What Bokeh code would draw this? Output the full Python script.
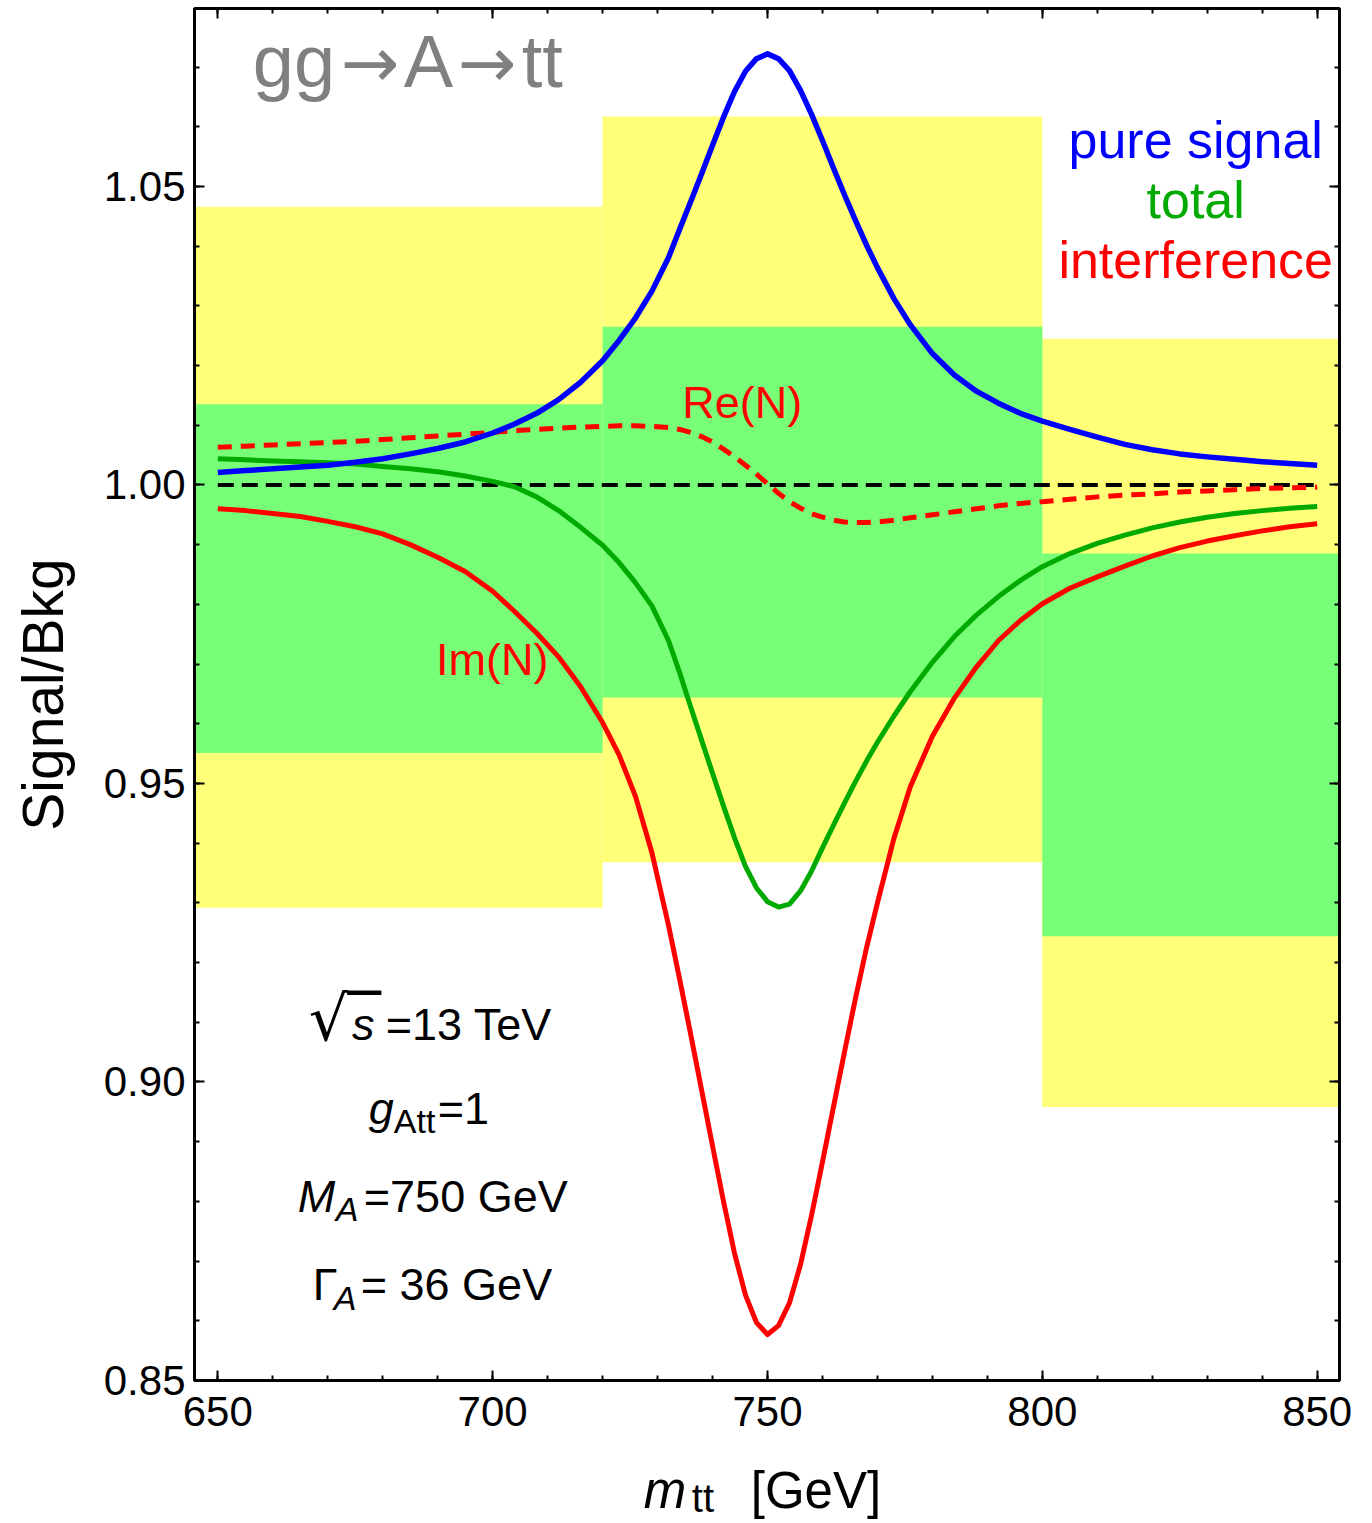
from bokeh.plotting import figure
from bokeh.layouts import column
from bokeh.models import (Range1d, LinearAxis, SingleIntervalTicker,
                          CustomJSTickFormatter, PrintfTickFormatter)
from bokeh.core.properties import value
from bokeh.embed import file_html
from bokeh.resources import INLINE

# ---------------- data ----------------
m_tt = [650, 655, 660, 665, 670, 675, 680, 685, 690, 695, 700, 704, 708, 712,
        716, 720, 723, 726, 729, 732, 734, 736, 738, 740, 742, 744, 746, 748,
        750, 752, 754, 756, 758, 760, 762, 764, 766, 768, 770, 773, 776, 780,
        784, 788, 792, 796, 800, 805, 810, 815, 820, 825, 830, 835, 840, 845,
        850]

pure_signal = [1.0021, 1.0024, 1.0027, 1.0030, 1.0033, 1.0038, 1.0044, 1.0052,
               1.0061, 1.0072, 1.0087, 1.0102, 1.0120, 1.0143, 1.0172, 1.0208,
               1.0242, 1.0280, 1.0325, 1.0381, 1.0428, 1.0474, 1.0521, 1.0569,
               1.0616, 1.0659, 1.0693, 1.0714, 1.0722, 1.0714, 1.0694, 1.0661,
               1.0621, 1.0577, 1.0531, 1.0486, 1.0443, 1.0402, 1.0364, 1.0312,
               1.0268, 1.0220, 1.0184, 1.0157, 1.0137, 1.0120, 1.0107, 1.0093,
               1.0080, 1.0068, 1.0059, 1.0052, 1.0047, 1.0043, 1.0039, 1.0036,
               1.0033]

total = [1.0044, 1.0042, 1.0040, 1.0039, 1.0037, 1.0035, 1.0031, 1.0027,
         1.0022, 1.0015, 1.0006, 0.9997, 0.9980, 0.9957, 0.9929, 0.9899,
         0.9870, 0.9836, 0.9797, 0.9739, 0.9686, 0.9629, 0.9573, 0.9517,
         0.9462, 0.9409, 0.9361, 0.9325, 0.9302, 0.9293, 0.9298, 0.9320,
         0.9353, 0.9392, 0.9430, 0.9467, 0.9503, 0.9537, 0.9569, 0.9613,
         0.9654, 0.9703, 0.9746, 0.9782, 0.9813, 0.9840, 0.9863, 0.9885,
         0.9902, 0.9916, 0.9928, 0.9938, 0.9946, 0.9952, 0.9957, 0.9961,
         0.9964]

interf_re = [1.0063, 1.0065, 1.0067, 1.0069, 1.0071, 1.0073, 1.0076, 1.0079,
             1.0082, 1.0085, 1.0088, 1.0091, 1.0093, 1.0095, 1.0097, 1.0098,
             1.0099, 1.0099, 1.0098, 1.0096, 1.0093, 1.0088, 1.0081, 1.0072,
             1.0060, 1.0047, 1.0033, 1.0018, 1.0002, 0.9986, 0.9972, 0.9961,
             0.9952, 0.9946, 0.9941, 0.9938, 0.9937, 0.9937, 0.9938, 0.9941,
             0.9945, 0.9950, 0.9955, 0.9960, 0.9965, 0.9969, 0.9972, 0.9976,
             0.9980, 0.9983, 0.9985, 0.9988, 0.9990, 0.9992, 0.9994, 0.9995,
             0.9996]

interf_im = [0.9960, 0.9957, 0.9952, 0.9947, 0.9939, 0.9930, 0.9918, 0.9900,
             0.9879, 0.9855, 0.9822, 0.9788, 0.9752, 0.9712, 0.9662, 0.9602,
             0.9548, 0.9478, 0.9383, 0.9262, 0.9173, 0.9081, 0.8987, 0.8893,
             0.8800, 0.8713, 0.8643, 0.8597, 0.8577, 0.8592, 0.8630, 0.8694,
             0.8776, 0.8866, 0.8958, 0.9050, 0.9140, 0.9224, 0.9300, 0.9408,
             0.9495, 0.9579, 0.9643, 0.9695, 0.9739, 0.9773, 0.9801, 0.9827,
             0.9846, 0.9864, 0.9881, 0.9895, 0.9906, 0.9915, 0.9923, 0.9930,
             0.9935]

# experimental bins with 1 sigma (green) and 2 sigma (yellow) bands
bin_left = [640, 720, 800]
bin_right = [720, 800, 860]
band2_lo = [0.9292, 0.9368, 0.8958]
band2_hi = [1.0466, 1.0617, 1.0245]
band1_lo = [0.9551, 0.9644, 0.9244]
band1_hi = [1.0135, 1.0265, 0.9885]

ref_x = [650, 850]
ref_y = [1.0, 1.0]

FONT = "Liberation Sans"
RED = "#ff0000"
GREEN = "#00aa00"
BLUE = "#0000ff"
GRAY = "#808080"

Y0, Y1 = 0.85, 1.0798
FRAME_H = 1372

p = figure(width=1372, height=1445,
           x_range=Range1d(645.76, 854.06), y_range=Range1d(Y0, Y1),
           output_backend="svg", toolbar_location=None,
           min_border_left=194, min_border_right=33, min_border_top=8,
           min_border_bottom=65,
           background_fill_color="white", border_fill_color="white",
           outline_line_color="black", outline_line_width=3)
p.grid.visible = False

p.xaxis.ticker = SingleIntervalTicker(interval=50, num_minor_ticks=5)
p.yaxis.ticker = SingleIntervalTicker(interval=0.05, num_minor_ticks=5)
p.yaxis.formatter = PrintfTickFormatter(format="%.2f")


def style_axis(ax, labels=True):
    ax.major_tick_in = 10
    ax.major_tick_out = 0
    ax.minor_tick_in = 5
    ax.minor_tick_out = 0
    ax.major_tick_line_width = 2
    ax.minor_tick_line_width = 2
    ax.major_tick_line_color = "black"
    ax.minor_tick_line_color = "black"
    ax.axis_line_width = 3
    ax.axis_line_color = "black"
    if labels:
        ax.major_label_text_font = FONT
        ax.major_label_text_font_size = "42px"
        ax.major_label_text_color = "black"
    else:
        ax.major_label_text_font_size = "1px"
        ax.major_label_standoff = 0


for ax in p.xaxis:
    style_axis(ax)
    ax.major_label_standoff = 16
for ax in p.yaxis:
    style_axis(ax)
    ax.major_label_standoff = 9
    ax.axis_label = "Signal/Bkg"
    ax.axis_label_text_font = FONT
    ax.axis_label_text_font_size = "57px"
    ax.axis_label_text_font_style = "normal"
    ax.axis_label_text_color = "black"
    ax.axis_label_standoff = 26

top = LinearAxis(ticker=SingleIntervalTicker(interval=50, num_minor_ticks=5),
                 formatter=CustomJSTickFormatter(code="return ''"))
style_axis(top, labels=False)
p.add_layout(top, "above")
right = LinearAxis(ticker=SingleIntervalTicker(interval=0.05, num_minor_ticks=5),
                   formatter=CustomJSTickFormatter(code="return ''"))
style_axis(right, labels=False)
p.add_layout(right, "right")

# bands
p.quad(left=bin_left, right=bin_right, bottom=band2_lo, top=band2_hi,
       fill_color="#ffff78", line_color=None)
p.quad(left=bin_left, right=bin_right, bottom=band1_lo, top=band1_hi,
       fill_color="#78ff78", line_color=None)

# curves
p.line(ref_x, ref_y, line_color="black", line_width=4, line_dash="16 8")
p.line(m_tt, interf_re, line_color=RED, line_width=5, line_dash="14 9")
p.line(m_tt, interf_im, line_color=RED, line_width=5, line_join="round")
p.line(m_tt, total, line_color=GREEN, line_width=5, line_join="round")
p.line(m_tt, pure_signal, line_color=BLUE, line_width=5.5, line_join="round")

PPU_MAIN = FRAME_H / (Y1 - Y0)   # screen px per y unit in the main plot


def txt(fig, x, y, s, size, color="black", style="normal", align="left",
        font=FONT, ppu=PPU_MAIN):
    # y is the wanted baseline; the svg text sits ~0.4em low, compensate
    fig.text(x=[x], y=[y + 0.40 * size / ppu], text=[s],
             text_font=value(font), text_font_size=value(f"{size}px"),
             text_color=color, text_font_style=style, text_align=align,
             text_baseline="alphabetic")


# title  gg -> A -> tt
txt(p, 656.37, 1.06603, "gg", 74, GRAY)
txt(p, 672.38, 1.06603, "→", 70, GRAY, font="DejaVu Sans")
txt(p, 683.84, 1.06603, "A", 74, GRAY)
txt(p, 693.66, 1.06603, "→", 70, GRAY, font="DejaVu Sans")
txt(p, 705.30, 1.06603, "tt", 74, GRAY)

txt(p, 827.9, 1.0543, "pure signal", 52, BLUE, align="center")
txt(p, 827.9, 1.04427, "total", 52, GREEN, align="center")
txt(p, 827.9, 1.03423, "interference", 52, RED, align="center")

txt(p, 734.5, 1.0108, "Re(N)", 45, RED)
txt(p, 689.7, 0.96783, "Im(N)", 45, RED)

# parameter block
txt(p, 666.55, 0.90653, "√", 62, font="DejaVu Sans")
txt(p, 673.65, 0.90636, "‾", 66, font="DejaVu Sans")
txt(p, 674.4, 0.90653, "s", 45, style="italic")
txt(p, 680.56, 0.90653, "=13 TeV", 45)
txt(p, 677.47, 0.89247, "g", 45, style="italic")
txt(p, 682.02, 0.89113, "Att", 34)
txt(p, 690.02, 0.89247, "=1", 45)
txt(p, 664.55, 0.87774, "M", 45, style="italic")
txt(p, 671.47, 0.87640, "A", 34, style="italic")
txt(p, 676.56, 0.87774, "=750 GeV", 45)
txt(p, 667.28, 0.86301, "Γ", 45)
txt(p, 671.10, 0.86151, "A", 34, style="italic")
txt(p, 676.01, 0.86301, "= 36 GeV", 45)

# x axis title strip (m_tt [GeV]) below the main plot, sharing the x scale
STRIP_H = 78
q = figure(width=1372, height=STRIP_H, x_range=p.x_range, y_range=Range1d(0, 1),
           x_axis_type=None, y_axis_type=None, output_backend="svg",
           toolbar_location=None, min_border_left=194, min_border_right=33,
           min_border_top=0, min_border_bottom=0, outline_line_color=None,
           background_fill_color="white", border_fill_color="white")
q.grid.visible = False
txt(q, 727.5, 0.1667, "m", 51, style="italic", ppu=STRIP_H)
txt(q, 736.23, 0.1282, "tt", 40, ppu=STRIP_H)
txt(q, 746.96, 0.1667, "[GeV]", 51, ppu=STRIP_H)

open("out.html", "w").write(file_html(column(p, q), INLINE))
